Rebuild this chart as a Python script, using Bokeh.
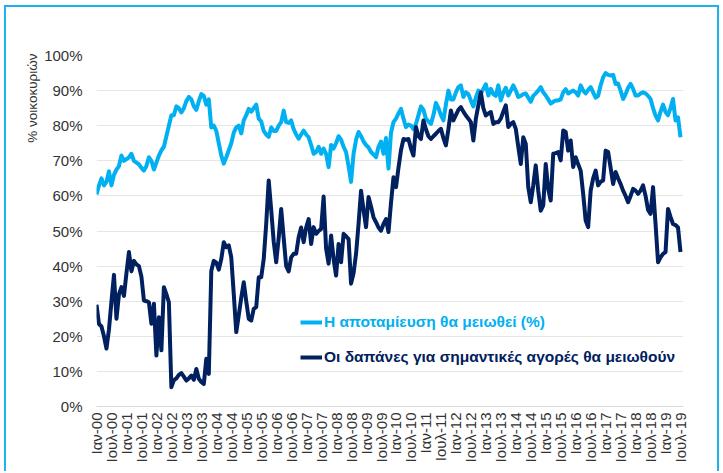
from math import pi
from bokeh.plotting import figure
from bokeh.models import FixedTicker, Legend, LegendItem, PrintfTickFormatter, Range1d, Title
from bokeh.embed import file_html
from bokeh.resources import INLINE

# Monthly values, Jan 2000 - Jul 2019 (% of households)
savings = [
    60.4, 63, 65, 63, 64, 67, 63, 66, 67.5, 68.5, 71.5, 70,
    70.5, 71, 72, 70, 69.5, 69, 68, 67.2, 68.5, 71, 70, 67.5,
    69.5, 71.5, 73, 74, 77, 80, 83, 83, 85.5, 85, 83.8, 85,
    87, 88.2, 87.5, 85.5, 84.5, 87, 89, 88.5, 86, 87.5, 79.5, 80,
    78.5, 75, 71.5, 69.2, 71, 73, 75, 78, 79.5, 80, 77.8, 81.5,
    83, 84.8, 84, 85, 86, 82, 81.2, 78.5, 77.5, 76.8, 79.5, 78.5,
    78.5, 80, 81, 84.3, 81, 80.8, 81.5, 79, 77.5, 76.3, 77.5, 78.6,
    77.5, 76.7, 74.5, 72, 72.5, 74, 72, 73.5, 72, 68.2, 74.5, 73.5,
    75, 77, 76, 74, 72.5, 68.5, 64, 72, 76, 78.2, 77, 75.5,
    74.5, 73.8, 72.5, 71.8, 71, 74, 75.5, 72, 76.5, 67.8, 78, 81,
    82, 83.5, 84.8, 82, 79.6, 80.3, 80, 79, 80.5, 83, 85.5, 84.5,
    82, 81.2, 80.5, 83, 86.5, 85, 83, 81.5, 86, 90, 87.5, 87.5,
    89.5, 91, 91.5, 88.2, 89.5, 89, 87.2, 85.5, 88, 90, 89.2, 90.5,
    91.8, 88.6, 90.5, 89, 88.5, 91.5, 87.2, 89.5, 90.8, 88.6, 90, 91.5,
    90, 88.2, 88.5, 89, 89.2, 88, 86.8, 88.5, 89.2, 90, 91, 89.5,
    88.6, 87.5, 86.3, 86.8, 87.2, 87.2, 87.5, 89.5, 90.4, 89.2, 89.6, 90,
    89.5, 88.6, 91.5, 90, 89.2, 90.2, 91, 89.5, 88, 88.5, 91.5, 93.8,
    95, 94.5, 94.3, 94.5, 91.9, 92, 90, 87.6, 89, 90.8, 91.9, 90.5,
    88.6, 88.6, 89.2, 89.5, 89.2, 88.5, 87.6, 85, 82.9, 81.5, 84, 86,
    83.9, 83, 85, 87.6, 81.5, 82.4, 76.7,
]

purchases = [
    29, 23.5, 22.8, 20, 16.5, 22, 30, 37.5, 25, 32, 34, 31.5,
    38, 44, 38.5, 41.5, 40.5, 40, 37, 30.2, 30, 29.7, 23.6, 29.3,
    14.5, 25.4, 16, 34, 32, 29.7, 5.5, 7.5, 8, 9, 9.5, 8.5,
    7.4, 8, 8.8, 7.6, 10.7, 7.9, 7, 6.4, 13.6, 9.3, 38.7, 41.5,
    41, 39, 42, 46.8, 45.4, 45.9, 42.5, 32, 21.2, 26, 31, 35.4,
    30, 25, 24.5, 27.8, 28.3, 36.8, 36.8, 42, 52, 64.4, 56, 47,
    41.1, 48, 56.3, 48, 40, 38.5, 42.5, 43.5, 43.5, 48.2, 51, 46.8,
    51, 53.4, 46.3, 51.1, 49.2, 50, 50.6, 59.8, 45, 40.7, 48.7, 42,
    37.3, 46.3, 41.1, 49.2, 48.5, 47.7, 35, 38, 43.5, 52, 61.5, 56,
    51.1, 59.7, 57, 53.9, 52.5, 51, 50.1, 52, 53.4, 49.7, 58, 65.3,
    62.5, 68, 73, 76.2, 76, 76.2, 73.5, 71.5, 79.6, 77, 76.2, 81.5,
    79, 77, 76.2, 77, 77.7, 78.5, 79.1, 76.5, 74.4, 79, 84.3, 81.5,
    83, 84.5, 85.3, 84, 82.9, 82, 81, 75.8, 82, 85.8, 89.5, 85,
    82.9, 83.5, 83.9, 80.5, 81, 81, 82, 84, 85.8, 79.6, 80.5, 81,
    79.1, 74, 69.1, 76.7, 74.8, 62.5, 58.2, 63, 68.7, 61.5, 55.8, 57.3,
    69.1, 62, 58.7, 72, 72.2, 72.5, 70.1, 78.6, 78.2, 72.9, 75.8, 68.2,
    71, 69, 67.2, 60.6, 53, 51.1, 61.5, 65, 67.2, 63, 64, 64.4,
    72.9, 72.5, 68, 63.4, 66.8, 65, 63.4, 61.5, 60, 58.2, 60, 62,
    61.5, 60.6, 61.5, 63, 60, 56, 54.9, 62.5, 52, 41.1, 42.5, 43.5,
    44, 56.3, 54, 52, 51.7, 51, 44,
]

tick_labels = [
    "Ιαν-00", "Ιουλ-00", "Ιαν-01", "Ιουλ-01", "Ιαν-02", "Ιουλ-02", "Ιαν-03", "Ιουλ-03",
    "Ιαν-04", "Ιουλ-04", "Ιαν-05", "Ιουλ-05", "Ιαν-06", "Ιουλ-06", "Ιαν-07", "Ιουλ-07",
    "Ιαν-08", "Ιουλ-08", "Ιαν-09", "Ιουλ-09", "Ιαν-10", "Ιουλ-10", "Ιαν-11", "Ιουλ-11",
    "Ιαν-12", "Ιουλ-12", "Ιαν-13", "Ιουλ-13", "Ιαν-14", "Ιουλ-14", "Ιαν-15", "Ιουλ-15",
    "Ιαν-16", "Ιουλ-16", "Ιαν-17", "Ιουλ-17", "Ιαν-18", "Ιουλ-18", "Ιαν-19", "Ιουλ-19",
]

series_names = ["Η αποταμίευση θα μειωθεί (%)", "Οι δαπάνες για σημαντικές αγορές θα μειωθούν"]
y_title = "% νοικοκυριών"

LIGHT = "#00B0F0"
DARK = "#002060"
FRAME = "#1EB1ED"
FONT = "Liberation Sans"

x_s = list(range(len(savings)))
x_p = list(range(len(purchases)))

p = figure(width=715, height=466, output_backend="svg", toolbar_location=None,
           x_range=Range1d(0, 235.2), y_range=Range1d(0, 100),
           min_border_left=90, min_border_right=38, min_border_top=48, min_border_bottom=67,
           styles={"border-top": f"2px solid {FRAME}", "border-left": f"2px solid {FRAME}",
                   "border-right": f"2px solid {FRAME}", "margin-left": "4px",
                   "margin-top": "5px", "margin-bottom": "-10px"})
p.outline_line_color = None
p.background_fill_color = "white"
p.border_fill_alpha = 0

r1 = p.line(x_s, savings, line_color=LIGHT, line_width=4, line_join="round")
r2 = p.line(x_p, purchases, line_color=DARK, line_width=4, line_join="round")

p.xgrid.grid_line_color = None
p.ygrid.grid_line_color = "#E6E6E6"
p.ygrid.ticker = FixedTicker(ticks=list(range(0, 101, 10)))

xa = p.xaxis[0]
xa.ticker = FixedTicker(ticks=[6 * i for i in range(len(tick_labels))])
xa.major_label_overrides = {6 * i: lab for i, lab in enumerate(tick_labels)}
xa.major_label_orientation = pi / 2
xa.major_tick_line_color = None
xa.minor_tick_line_color = None
xa.major_tick_out = 0
xa.minor_tick_out = 0
xa.axis_line_color = "#D9D9D9"
xa.major_label_text_font = FONT
xa.major_label_text_font_size = "15px"
xa.major_label_text_color = "#333333"
xa.major_label_standoff = 6

ya = p.yaxis[0]
ya.ticker = FixedTicker(ticks=list(range(0, 101, 10)))
ya.formatter = PrintfTickFormatter(format="%d%%")
ya.major_tick_line_color = None
ya.minor_tick_line_color = None
ya.major_tick_out = 0
ya.minor_tick_out = 0
ya.axis_line_color = None
ya.major_label_text_font = FONT
ya.major_label_text_font_size = "15px"
ya.major_label_text_color = "#333333"
ya.major_label_standoff = 14

# y-axis title, top aligned, left of the tick labels
p.add_layout(Title(text=y_title, align="right", text_font=FONT, text_font_size="13.5px",
                   text_font_style="normal", text_color="#333333", standoff=4, offset=-2),
             "left")

for r, name, col, ly in [(r1, series_names[0], LIGHT, 75), (r2, series_names[1], DARK, 40)]:
    leg = Legend(items=[LegendItem(label=name, renderers=[r])], location=(204, ly),
                 glyph_width=22, glyph_height=16, label_standoff=2, padding=0, margin=0,
                 spacing=0, border_line_alpha=0, background_fill_alpha=0,
                 label_text_font=FONT, label_text_font_size="15.5px",
                 label_text_font_style="bold", label_text_color=col)
    p.add_layout(leg)

open("out.html", "w").write(file_html(p, INLINE))
